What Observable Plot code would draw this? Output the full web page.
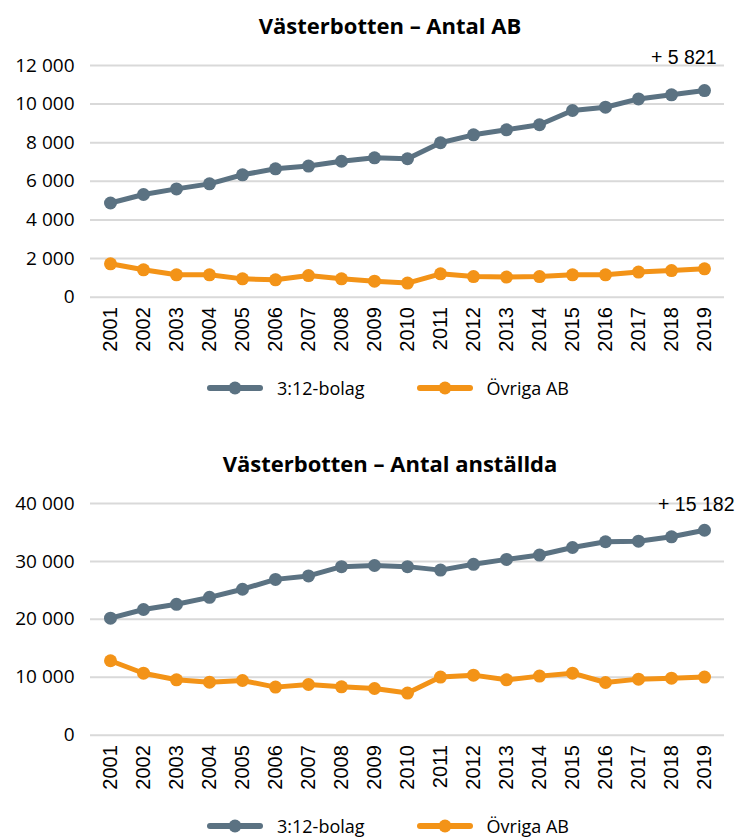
<!DOCTYPE html>
<html>
<head>
<meta charset="utf-8">
<script src="https://cdn.jsdelivr.net/npm/d3@7"></script>
<script src="https://cdn.jsdelivr.net/npm/@observablehq/plot@0.6"></script>
<style>
  html, body { margin: 0; padding: 0; background: #fff; }
  #page { position: relative; width: 735px; height: 838px; overflow: hidden; }
  .block { position: absolute; left: 0; width: 735px; height: 420px; }
  .title { position: absolute; white-space: nowrap; transform: translateX(-50%);
           font-family: "Open Sans", sans-serif; font-weight: 700; font-size: 22px; line-height: 24px; color: #000; }
  .chart { position: absolute; left: 0; top: 40px; }
  .legend { position: absolute; left: 207px; display: flex; align-items: center;
            font-family: "Open Sans", sans-serif; font-size: 18px; color: #000; height: 24px; }
  .legend .item { display: flex; align-items: center; }
  .legend .item + .item { margin-left: 52px; }
  .legend svg { margin-right: 14px; }
</style>
</head>
<body>
<div id="page"></div>
<script>
// ---- data ----
const years = [2001, 2002, 2003, 2004, 2005, 2006, 2007, 2008, 2009, 2010,
               2011, 2012, 2013, 2014, 2015, 2016, 2017, 2018, 2019];
const seriesNames = ["3:12-bolag", "Övriga AB"];
const seriesColors = ["#5b7282", "#f39317"];

const abTitle = "Västerbotten – Antal AB";
const abTicks = [0, 2000, 4000, 6000, 8000, 10000, 12000];
const ab312 = [4880, 5320, 5610, 5870, 6340, 6650, 6790, 7040, 7220, 7170,
               8000, 8410, 8670, 8930, 9670, 9840, 10270, 10480, 10701];
const abOvriga = [1730, 1420, 1160, 1160, 950, 900, 1120, 950, 830, 730,
                  1210, 1070, 1040, 1070, 1160, 1160, 1300, 1380, 1470];

const empTitle = "Västerbotten – Antal anställda";
const empTicks = [0, 10000, 20000, 30000, 40000];
const emp312 = [20200, 21700, 22600, 23800, 25200, 26900, 27500, 29100, 29300, 29100,
                28500, 29500, 30350, 31100, 32400, 33400, 33500, 34250, 35382];
const empOvriga = [12850, 10700, 9560, 9160, 9440, 8300, 8750, 8350, 8060, 7270,
                   10030, 10370, 9560, 10200, 10710, 9100, 9680, 9850, 10030];

// ---- helpers ----
const fmt = v => d3.format(",")(v).replace(/,/g, " ");

function buildBlock(top, title, titleCenter, ticks, s1, s2, annDx, annDy) {
  const block = document.createElement("div");
  block.className = "block";
  block.style.top = top + "px";

  const t = document.createElement("div");
  t.className = "title";
  t.textContent = title;
  t.style.left = titleCenter + "px";
  t.style.top = "13px";
  block.appendChild(t);

  const rows = [];
  years.forEach((y, i) => {
    rows.push({year: y, value: s1[i], series: seriesNames[0]});
    rows.push({year: y, value: s2[i], series: seriesNames[1]});
  });
  const diff = s1[s1.length - 1] - s1[0];
  const annText = "+ " + fmt(diff);

  const chart = Plot.plot({
    width: 735,
    height: 330,
    marginLeft: 90,
    marginRight: 11,
    marginTop: 25,
    marginBottom: 73.3,
    style: {background: "transparent", overflow: "visible", color: "#000"},
    x: {type: "point", domain: years, padding: 0.5, label: null},
    y: {domain: [ticks[0], ticks[ticks.length - 1]], label: null},
    color: {domain: seriesNames, range: seriesColors},
    marks: [
      Plot.ruleY(ticks, {stroke: "#d9d9d9", strokeWidth: 2}),
      Plot.axisY(ticks, {tickSize: 0, tickPadding: 16, tickFormat: fmt, fontSize: 19,
                         fontFamily: "Open Sans", label: null}),
      Plot.axisX(years, {tickSize: 0, tickPadding: 10, tickRotate: -90, fontSize: 20,
                         fontFamily: "Liberation Sans", tickFormat: d => String(d), label: null}),
      Plot.line(rows, {x: "year", y: "value", z: "series", stroke: "series", strokeWidth: 5}),
      Plot.dot(rows, {x: "year", y: "value", fill: "series", r: 6.5}),
      Plot.text([annText], {frameAnchor: "top-right", text: d => d, dx: annDx, dy: annDy,
                            textAnchor: "end", lineAnchor: "bottom", fontSize: 19.5,
                            fontFamily: "Liberation Sans", fill: "#000"})
    ]
  });
  chart.classList.add("chart");
  block.appendChild(chart);

  const legend = document.createElement("div");
  legend.className = "legend";
  legend.style.top = (388 - 12) + "px";
  seriesNames.forEach((name, i) => {
    const item = document.createElement("div");
    item.className = "item";
    item.innerHTML = `<svg width="56" height="16"><line x1="3" x2="53" y1="8" y2="8" stroke="${seriesColors[i]}" stroke-width="6" stroke-linecap="round"/><circle cx="28" cy="8" r="6.5" fill="${seriesColors[i]}"/></svg><span>${name}</span>`;
    legend.appendChild(item);
  });
  block.appendChild(legend);
  return block;
}

const page = document.getElementById("page");
page.appendChild(buildBlock(0, abTitle, 390, abTicks, ab312, abOvriga, -8, -2));
page.appendChild(buildBlock(438, empTitle, 390, empTicks, emp312, empOvriga, 10, 7));
</script>
</body>
</html>
